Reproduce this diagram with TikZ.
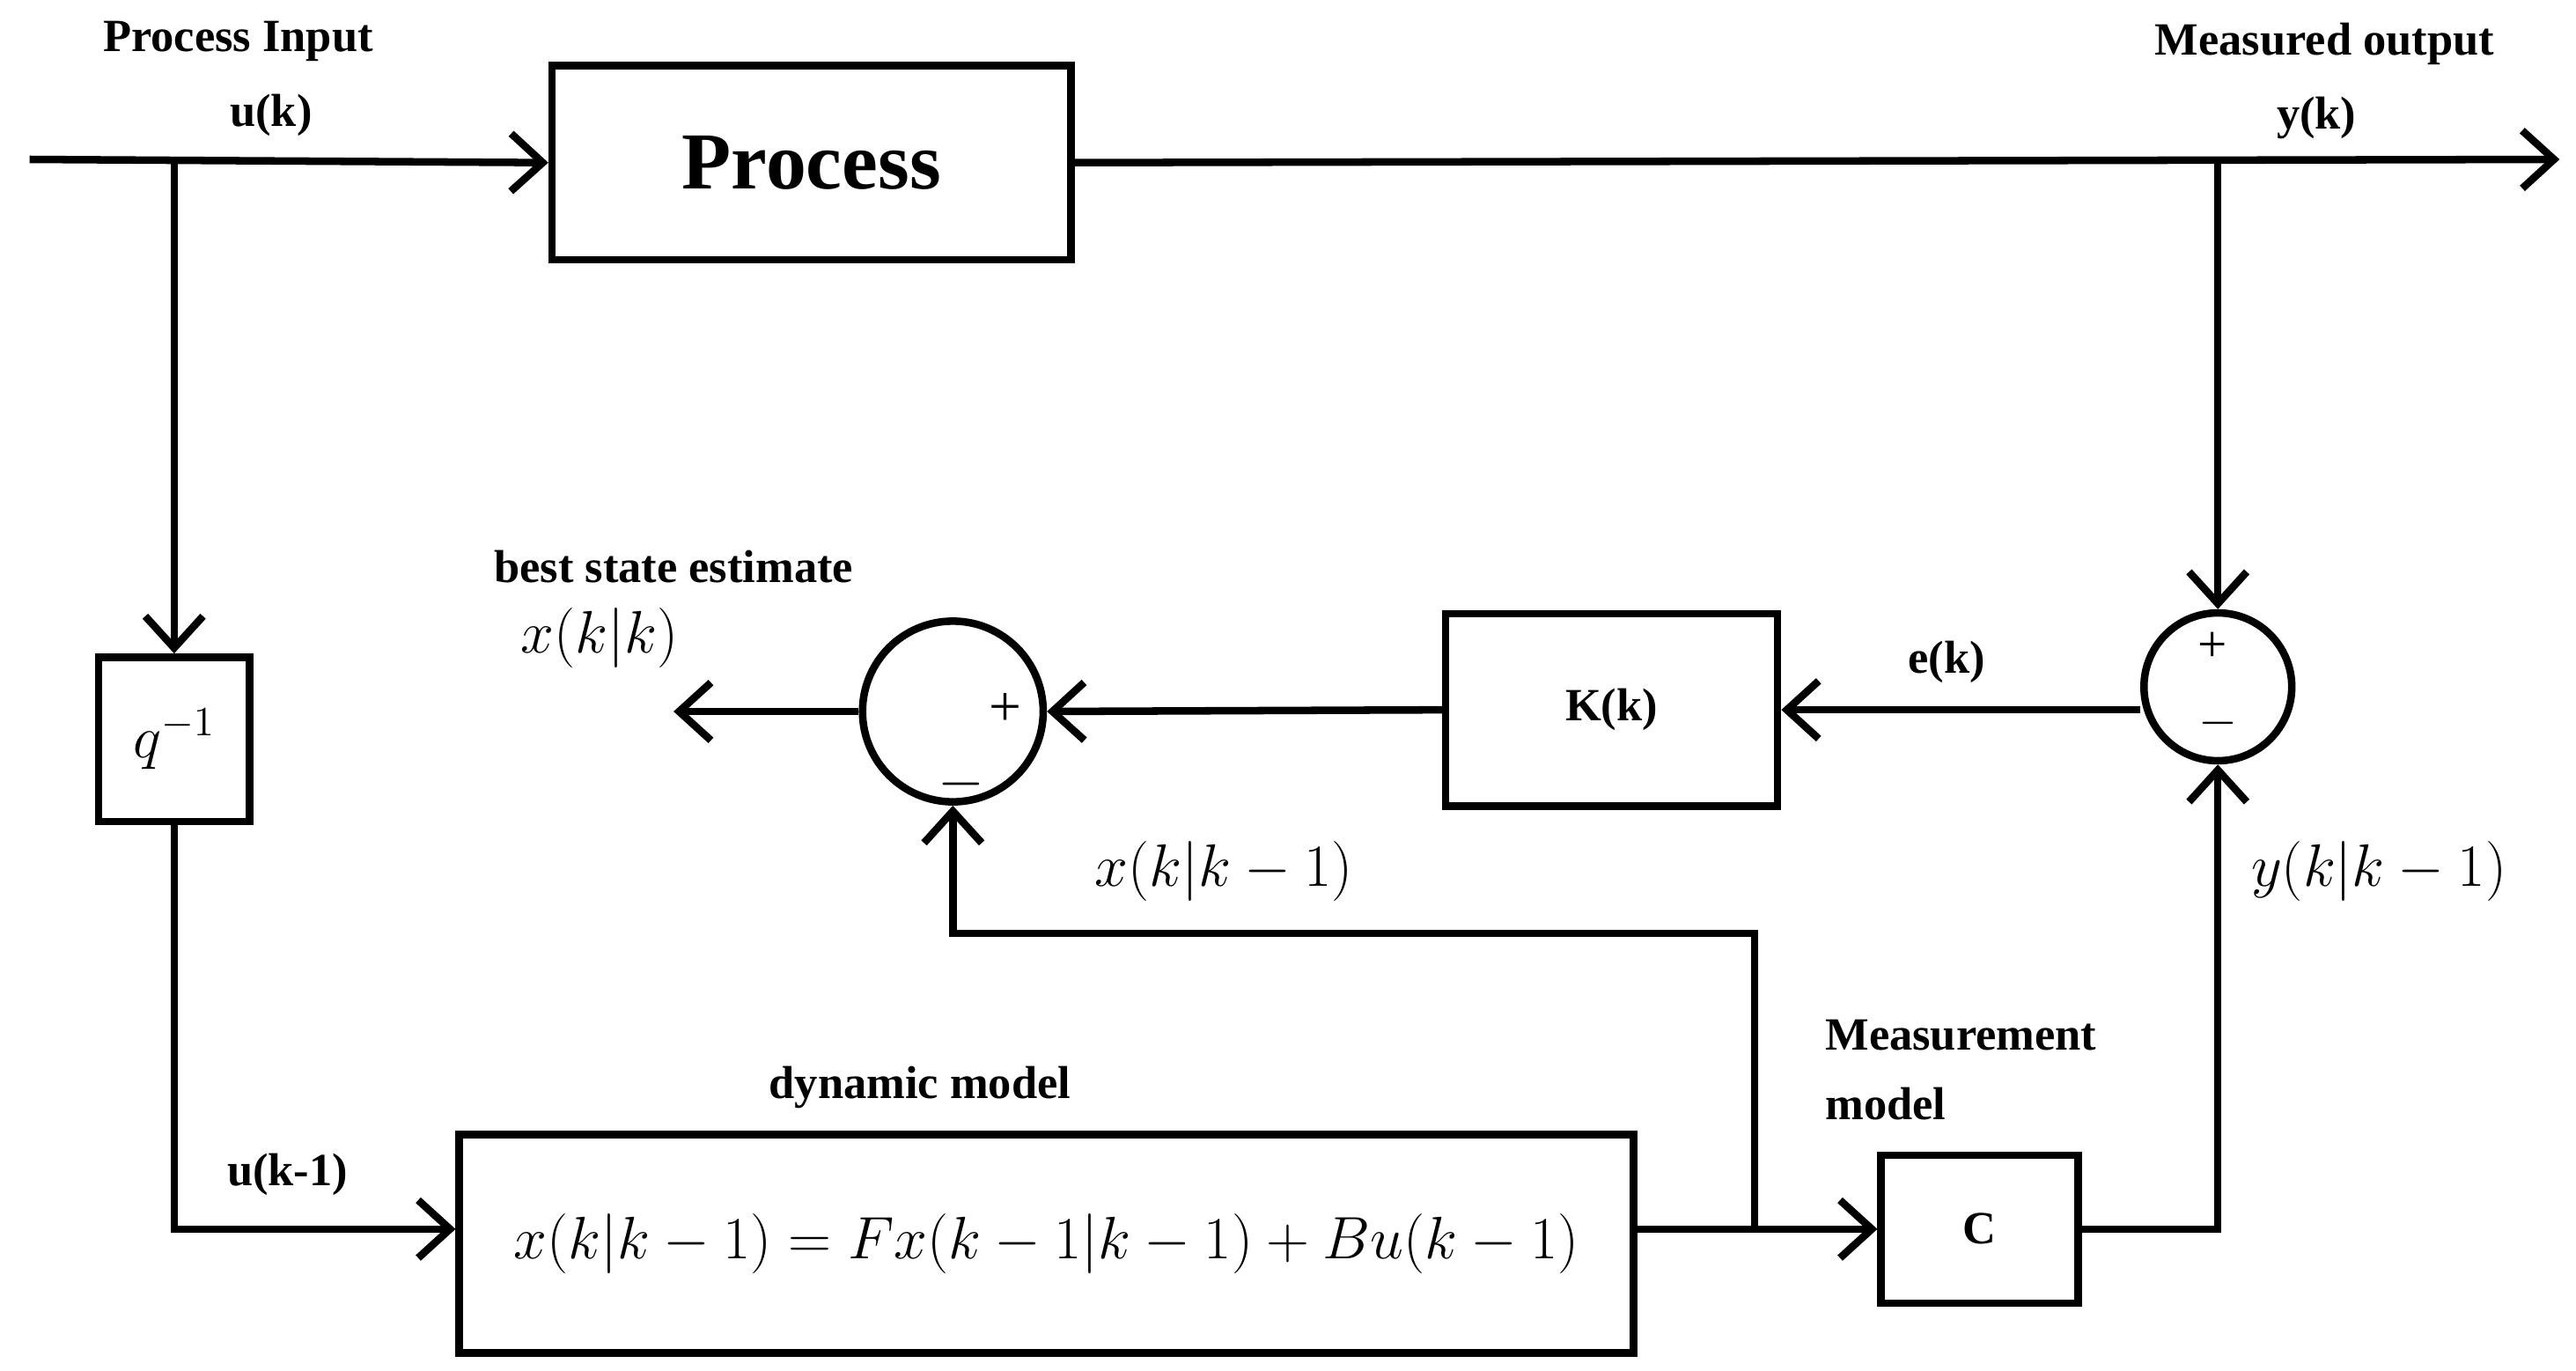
\documentclass[tikz,border=0pt]{standalone}
\usepackage{fontspec}
\setmainfont{Liberation Serif}
\usetikzlibrary{arrows.meta}
\begin{document}
\begin{tikzpicture}[x=0.02cm,y=-0.02cm,line width=2.6pt,
  arr/.style={-{Straight Barb[length=11pt,width=20pt,line width=2.6pt]}},
  blk/.style={draw,inner sep=0pt},
  lab/.style={font=\bfseries\fontsize{16}{18}\selectfont},
  mth/.style={font=\fontsize{22}{24}\selectfont},
  sum/.style={draw,circle,inner sep=0pt}]
\useasboundingbox (0,0) rectangle (1568,834);
\node[blk,minimum width=6.32cm,minimum height=2.36cm,font=\bfseries\fontsize{28}{30}\selectfont] (P) at (494,99) {Process};
\node[blk,minimum width=1.84cm,minimum height=2cm,mth] (Q) at (106,450) {$q^{-1}$};
\node[blk,minimum width=14.3cm,minimum height=2.66cm,mth] (D) at (637,757) {$x(k|k-1)=Fx(k-1|k-1)+Bu(k-1)$};
\node[blk,minimum width=2.4cm,minimum height=1.8cm,lab] (C) at (1205,748) {C};
\node[blk,minimum width=4.04cm,minimum height=2.34cm,lab] (K) at (981,432) {K(k)};
\node[sum,minimum size=1.8cm] (S2) at (1350,418) {};
\node[sum,minimum size=2.2cm] (S1) at (580,433) {};
\coordinate (in) at (18,97);
\coordinate (out) at (1558,97);
\coordinate (b1) at (106,97);
\coordinate (b2) at (1350,97);
\coordinate (j) at (1068,748);
\coordinate (est) at (410,433);
% connectors
\draw[arr] (in) -- (P.west);
\draw[arr] (P.east) -- (out);
\draw[arr] (b1) -- (Q.north);
\draw[arr] (Q.south) |- (D.west |- C.west);
\draw[arr] (D.east |- C.west) -- (C.west);
\draw[arr] (j) -- (1068,568) -| (S1.south);
\draw[arr] (C.east) -| (S2.south);
\draw[arr] (b2) -- (S2.north);
\draw[arr] (S2.west |- K.east) -- (K.east);
\draw[arr] (K.west) -- (S1.east);
\draw[arr] (S1.west) -- (est);
% labels
\node[lab] at (145,25) {Process Input};
\node[lab] at (165,70) {u(k)};
\node[lab] at (1415,27) {Measured output};
\node[lab] at (1410,72) {y(k)};
\node[lab] at (410,345) {best state estimate};
\node[mth] at (365,388) {$x(k|k)$};
\node[lab] at (1185,403) {e(k)};
\node[lab] at (175,715) {u(k-1)};
\node[lab] at (560,662) {dynamic model};
\node[lab,anchor=west] at (1103,630) {Measurement};
\node[lab,anchor=west] at (1103,672) {model};
\node[mth] at (745,530) {$x(k|k-1)$};
\node[mth] at (1448,530) {$y(k|k-1)$};
\node[font=\fontsize{20}{22}\selectfont] at (612,432) {+};
\node[font=\fontsize{20}{22}\selectfont] at (585,477) {$-$};
\node[font=\fontsize{18}{20}\selectfont] at (1347,394) {+};
\node[font=\fontsize{18}{20}\selectfont] at (1350,440) {$-$};
\end{tikzpicture}
\end{document}
